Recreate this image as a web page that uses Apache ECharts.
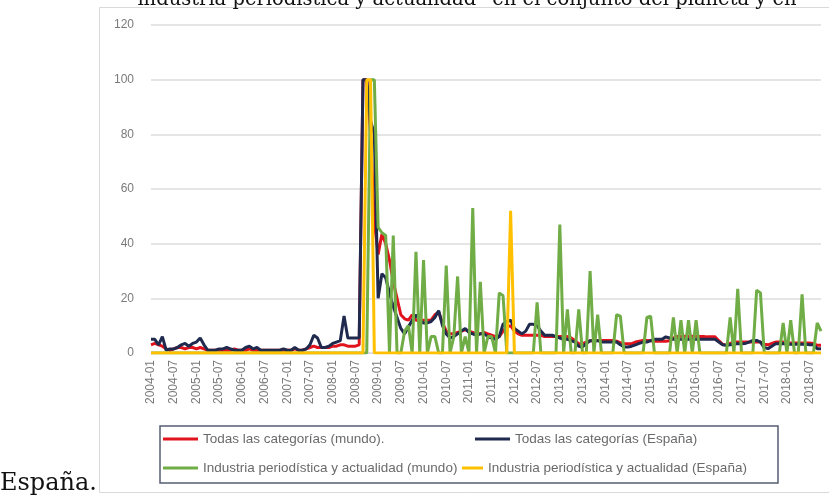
<!DOCTYPE html>
<html><head><meta charset="utf-8">
<script src="https://cdn.jsdelivr.net/npm/echarts/dist/echarts.min.js"></script>
<style>html,body{margin:0;padding:0;background:#fff}#c{width:829px;height:495px}</style>
</head><body><div id="c"></div>
<script>
// Monthly categories 2004-01 .. 2018-10
const firstYear = 2004, monthCount = 178;
const categories = [];
for (let i = 0; i < monthCount; i++) {
  const y = firstYear + Math.floor(i / 12), m = i % 12 + 1;
  categories.push(y + '-' + (m < 10 ? '0' : '') + m);
}
const yTicks = [0, 20, 40, 60, 80, 100, 120];
const seriesNames = [
  'Todas las categorías (mundo).',
  'Todas las categorías (España)',
  'Industria periodística y actualidad (mundo)',
  'Industria periodística y actualidad (España)'
];
const todasMundo = [
  3,3.5,3,2.5,1.5,1,1.5,2,2,1.5,
  2,2,1.5,2,1.5,1,1,1,1,1,
  1,1,1.5,1,1,1,1.5,1,1,1,
  1,1,1,1,1,1,1,1,1.5,1,
  1,1.5,2,2.5,2,2,2,2,2.5,2.5,
  3,3,2.5,2.5,2.5,3,100,100,80,48,
  36,43.5,40,34,26,20,14,12.5,12,14,
  12,12,12,12,12,14,15,11,8,7,
  7,7.5,8,8.5,8,7.5,7,7,7.5,7,
  6.5,6,6,8,9.5,10,8,7,6.5,6.5,
  6.5,6.5,6.5,6.5,6,6,6,6,6,6,
  6,5.5,4.5,3.4,3.4,4,4.5,4.5,4.6,4.6,
  4.6,4.6,4.6,4.3,3.8,3.4,3.4,3.4,4,4.3,
  4.6,4.6,4.5,4.3,4.3,4.3,4.3,4.5,5.5,6,
  6.1,6.1,6.1,6.1,6.1,6,6,5.9,5.9,5.9,
  4.5,3.2,2.8,3.5,4,4,4,4,4,4,
  4,4,3.2,3,3.5,4,4,4,3.7,3.7,
  3.7,3.7,3.7,3.7,3.7,3.5,2.8,2.8
];
const todasEspana = [
  5,5,3,6,1,1.5,1.5,2,3,3.5,
  2.5,3.5,4,5.5,3,1,1,1,1.5,1.5,
  2,1.5,1,1,1,2,2.5,1.5,2,1,
  1,1,1,1,1,1.5,1,1,2,1,
  1,1.5,3,6.5,5.5,2,2,2.5,3.5,4,
  4.5,13.5,5.5,5.5,5.5,5.5,100,100,85,80,
  20,29,27.5,22,17,13,9,7,9.5,12,
  14,12,11,11,11.5,13,15.5,10,7,5.5,
  6,7,8,9,7.5,7,6.5,7,7,6,
  5.5,5,6,10.5,11.5,12,9,8,7,8,
  10.5,10.5,10,8,6.5,6.5,6.5,6,5.5,5,
  5,4.5,4,2.5,2.2,3.5,4.5,4.5,4.5,4,
  4,4,4,4,3,2.2,2.2,2.5,3,3.5,
  4,4,4.5,5,5,5,5.9,5.5,5,5,
  5,5,5,5,5,5,5,5,5,5,
  4,3,2.8,3,3.4,3.4,3.4,3.5,4,4.6,
  4.6,4,2,1.6,2.5,3.4,3.4,3.5,3.2,3.2,
  3.2,3.2,3.2,3.2,3,3,1.6,1.6
];
const industriaMundo = [
  0,0,0,0,0,0,0,0,0,0,
  0,0,0,0,0,0,0,0,0,0,
  0,0,0,0,0,0,0,0,0,0,
  0,0,0,0,0,0,0,0,0,0,
  0,0,0,0,0,0,0,0,0,0,
  0,0,0,0,0,0,0,0,100,100,
  46,44,43,0,43,0,0,8,10,0,
  37,0,34,0,6,6,0,0,32,0,
  6,28,0,6,0,53,0,26,0,6,
  6,0,22,21,0,0,0,0,0,0,
  0,0,18.5,0,0,0,0,0,47,0,
  16,0,0,16,0,0,30,0,14,0,
  0,0,0,14,13.5,0,0,0,0,0,
  0,13,13.5,0,0,0,0,0,13,0,
  12,0,12,0,12,0,0,0,0,0,
  0,0,0,13,0,23.5,0,0,0,0,
  23,22,0,0,0,0,0,11,0,12,
  0,0,21.5,0,0,0,11,8
];
const industriaEspana = [
  0,0,0,0,0,0,0,0,0,0,
  0,0,0,0,0,0,0,0,0,0,
  0,0,0,0,0,0,0,0,0,0,
  0,0,0,0,0,0,0,0,0,0,
  0,0,0,0,0,0,0,0,0,0,
  0,0,0,0,0,0,0,100,100,0,
  0,0,0,0,0,0,0,0,0,0,
  0,0,0,0,0,0,0,0,0,0,
  0,0,0,0,0,0,0,0,0,0,
  0,0,0,0,0,52,0,0,0,0,
  0,0,0,0,0,0,0,0,0,0,
  0,0,0,0,0,0,0,0,0,0,
  0,0,0,0,0,0,0,0,0,0,
  0,0,0,0,0,0,0,0,0,0,
  0,0,0,0,0,0,0,0,0,0,
  0,0,0,0,0,0,0,0,0,0,
  0,0,0,0,0,0,0,0,0,0,
  0,0,0,0,0,0,0,0
];
const colors = ['#e1141e', '#1f2a4e', '#70ad47', '#ffc000'];
const seriesData = [todasMundo, todasEspana, industriaMundo, industriaEspana];

const chart = echarts.init(document.getElementById('c'), null, {renderer: 'canvas'});
const legendCommon = {
  icon: 'rect', itemWidth: 35, itemHeight: 3, padding: 0, itemGap: 0,
  textStyle: {fontSize: 13.5, color: '#6a6a6a', fontFamily: 'Liberation Sans'}
};
chart.setOption({
  animation: false,
  backgroundColor: '#ffffff',
  grid: {left: 151, right: 8, top: 25, bottom: 142},
  xAxis: {
    type: 'category', data: categories, boundaryGap: false,
    axisLine: {lineStyle: {color: '#d9d9d9', width: 1}},
    axisTick: {show: false},
    axisLabel: {interval: 5, rotate: 90, fontSize: 12, color: '#7a7a7a', margin: 7, fontFamily: 'Liberation Sans'},
    splitLine: {show: false}
  },
  yAxis: {
    type: 'value', min: yTicks[0], max: yTicks[yTicks.length - 1], interval: 20,
    axisLine: {show: false}, axisTick: {show: false},
    axisLabel: {fontSize: 12, color: '#7a7a7a', margin: 17, fontFamily: 'Liberation Sans'},
    splitLine: {lineStyle: {color: '#dcdcdc', width: 1.5}}
  },
  legend: [
    Object.assign({data: [seriesNames[0]], left: 163, top: 432}, legendCommon),
    Object.assign({data: [seriesNames[1]], left: 475, top: 432}, legendCommon),
    Object.assign({data: [seriesNames[2]], left: 163, top: 461}, legendCommon),
    Object.assign({data: [seriesNames[3]], left: 462, top: 461}, legendCommon, {itemWidth: 21})
  ],
  series: seriesNames.map((n, k) => ({
    name: n, type: 'line', data: seriesData[k], symbol: 'none',
    lineStyle: {color: colors[k], width: 3}, itemStyle: {color: colors[k]}
  })),
  graphic: [
    {type: 'rect', shape: {x: 99.5, y: 7.5, width: 740, height: 485}, style: {fill: 'none', stroke: '#d9d9d9', lineWidth: 1}, silent: true, z: -1},
    {type: 'rect', shape: {x: 160, y: 426, width: 618, height: 57}, style: {fill: 'none', stroke: '#555d73', lineWidth: 1.5}, silent: true},
    {type: 'text', x: 467, y: 0, style: {text: 'industria periodística y actualidad” en el conjunto del planeta y en', font: '19.5px "DejaVu Serif"', fill: '#111', textAlign: 'center', textVerticalAlign: 'middle'}, silent: true},
    {type: 'text', x: 0, y: 484, style: {text: 'España.', font: '24px "DejaVu Serif"', fill: '#111', textAlign: 'left', textVerticalAlign: 'middle'}, silent: true}
  ]
});
</script></body></html>
